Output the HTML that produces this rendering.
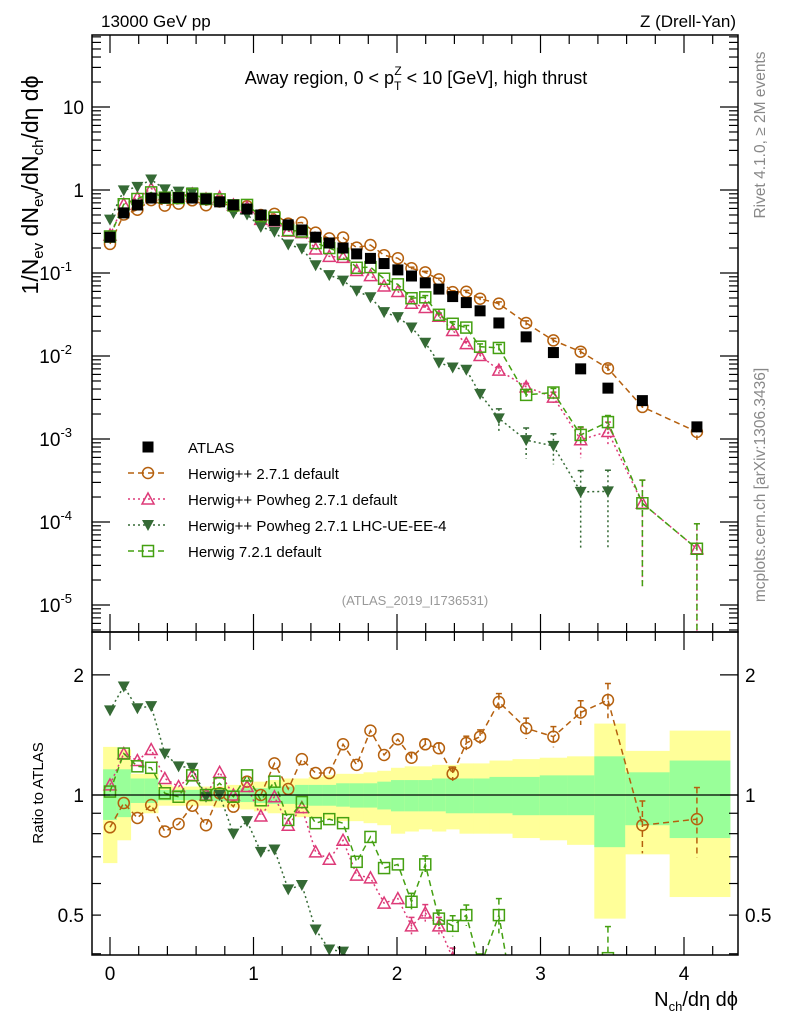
<!DOCTYPE html>
<html><head><meta charset="utf-8"><style>
html,body{margin:0;padding:0;background:#fff;width:786px;height:1024px;overflow:hidden}
svg{display:block;font-family:"Liberation Sans",sans-serif}
</style></head><body>
<svg id="chart" width="786" height="1024" viewBox="0 0 786 1024" xmlns="http://www.w3.org/2000/svg">
<defs>
<clipPath id="cm"><rect x="92" y="35" width="646" height="597"/></clipPath>
<clipPath id="cr"><rect x="92" y="632" width="646" height="323"/></clipPath>
</defs>
<g id="bands" clip-path="url(#cr)"></g>
<g id="grid"></g>
<g id="mainMarks" clip-path="url(#cm)"></g>
<g id="ratioMarks" clip-path="url(#cr)"></g>
<rect x="92" y="35" width="646" height="597" fill="none" stroke="#000" stroke-width="1.5"/>
<rect x="92" y="632" width="646" height="323" fill="none" stroke="#000" stroke-width="1.5"/>
<g id="axes"></g>
<text x="101" y="27" font-size="17">13000 GeV pp</text>
<text x="736" y="27" font-size="17" text-anchor="end">Z (Drell-Yan)</text>
<text x="416" y="84" font-size="18" text-anchor="middle">Away region, 0 &lt; p<tspan font-size="12" dy="6">T</tspan><tspan font-size="12" dx="-7" dy="-15">Z</tspan><tspan dy="9"> &lt; 10 [GeV], high thrust</tspan></text>
<text transform="translate(38,185) rotate(-90)" font-size="23" text-anchor="middle">1/N<tspan font-size="15" dy="5">ev</tspan><tspan dy="-5"> dN</tspan><tspan font-size="15" dy="5">ev</tspan><tspan dy="-5">/dN</tspan><tspan font-size="15" dy="5">ch</tspan><tspan dy="-5">/dη dϕ</tspan></text>
<text transform="translate(43,793) rotate(-90)" font-size="15" text-anchor="middle">Ratio to ATLAS</text>
<text transform="translate(765,135) rotate(-90)" font-size="15.5" fill="#888" text-anchor="middle">Rivet 4.1.0, ≥ 2M events</text>
<text transform="translate(765,485) rotate(-90)" font-size="15.5" fill="#888" text-anchor="middle">mcplots.cern.ch [arXiv:1306.3436]</text>
<text x="415" y="605" font-size="13" fill="#999" text-anchor="middle">(ATLAS_2019_I1736531)</text>
<text x="738" y="1006" font-size="20" text-anchor="end">N<tspan font-size="13" dy="5">ch</tspan><tspan dy="-5">/dη dϕ</tspan></text>
<g id="legend"></g>
</svg>
<script>
const xVals=[0,0.096,0.191,0.287,0.382,0.478,0.573,0.669,0.764,0.860,0.955,1.051,1.146,1.242,1.337,1.433,1.528,1.624,1.719,1.815,1.910,2.006,2.101,2.197,2.292,2.388,2.483,2.579,2.71,2.90,3.09,3.28,3.47,3.71,4.09];
const atlas=[0.27,0.53,0.66,0.80,0.80,0.81,0.80,0.78,0.72,0.66,0.59,0.50,0.43,0.38,0.33,0.27,0.23,0.20,0.17,0.15,0.13,0.109,0.092,0.076,0.064,0.052,0.044,0.035,0.025,0.017,0.011,0.0070,0.0041,0.0029,0.0014];
const rOrange=[0.83,0.955,0.876,0.944,0.81,0.846,0.94,0.84,1.01,0.935,1.08,1.0,1.2,1.035,1.23,1.135,1.135,1.34,1.19,1.45,1.26,1.38,1.24,1.34,1.31,1.13,1.35,1.40,1.71,1.47,1.40,1.61,1.73,0.84,0.87];
const rPink=[1.06,1.27,1.22,1.30,1.10,1.05,1.12,1.0,1.14,1.0,1.05,0.886,0.99,0.84,0.93,0.72,0.69,0.77,0.63,0.62,0.536,0.55,0.47,0.506,0.47,0.39,0.32,0.29,0.27,0.25,0.29,0.14,0.30,0.058,0.034];
const rGreen=[1.02,1.27,1.18,1.17,1.01,0.99,1.12,1.0,1.07,0.99,1.12,0.97,1.08,0.866,0.96,0.85,0.87,0.85,0.68,0.785,0.656,0.67,0.54,0.67,0.49,0.47,0.50,0.37,0.50,0.20,0.33,0.16,0.39,0.058,0.034];
const rDark=[1.63,1.87,1.65,1.67,1.27,1.18,1.17,0.99,1.0,0.80,0.86,0.72,0.73,0.58,0.595,0.46,0.41,0.405,0.36,0.34,0.26,0.27,0.24,0.19,0.13,0.14,0.155,0.10,0.071,0.057,0.075,0.033,0.057,null,null];
const eOrange=[0,0,0,0,0,0,0,0,0,0,0,0,0,0,0,0,0,0,0,0,0,0,0.03,0.03,0.03,0.04,0.04,0.04,0.05,0.06,0.06,0.07,0.1,0.15,0.2];
const ePink=[0,0,0,0,0,0,0,0,0,0,0,0,0,0,0,0,0,0,0,0,0,0,0.05,0.05,0.05,0.06,0.06,0.06,0.1,0.1,0.15,0.4,0.3,0.9,1.0];
const eGreen=[0,0,0,0,0,0,0,0,0,0,0,0,0,0,0,0,0,0,0,0,0,0,0.05,0.05,0.05,0.06,0.06,0.08,0.1,0.12,0.12,0.25,0.2,0.9,1.0];
const eDark=[0,0,0,0,0,0,0,0,0,0,0,0,0,0,0,0,0,0,0,0,0,0,0.05,0.05,0.06,0.08,0.08,0.1,0.3,0.4,0.4,0.8,0.8,0,0];
const bandYHi=[1.32,1.30,1.13,1.13,1.06,1.05,1.05,1.05,1.05,1.06,1.07,1.08,1.09,1.10,1.10,1.11,1.12,1.13,1.13,1.14,1.15,1.17,1.18,1.18,1.19,1.19,1.20,1.20,1.22,1.23,1.24,1.25,1.51,1.29,1.45];
const bandYLo=[0.675,0.77,0.90,0.90,0.94,0.94,0.94,0.94,0.93,0.93,0.92,0.91,0.90,0.89,0.88,0.88,0.87,0.86,0.86,0.85,0.84,0.80,0.81,0.82,0.81,0.82,0.80,0.80,0.80,0.78,0.77,0.75,0.49,0.71,0.555];
const bandGHi=[1.16,1.16,1.10,1.10,1.03,1.03,1.03,1.03,1.03,1.03,1.04,1.04,1.05,1.05,1.06,1.06,1.06,1.07,1.07,1.07,1.08,1.09,1.09,1.09,1.10,1.10,1.10,1.10,1.11,1.11,1.12,1.12,1.25,1.14,1.22];
const bandGLo=[0.866,0.88,0.955,0.955,0.97,0.97,0.97,0.97,0.965,0.96,0.96,0.955,0.95,0.95,0.945,0.94,0.94,0.935,0.93,0.93,0.92,0.91,0.91,0.91,0.91,0.90,0.90,0.90,0.90,0.89,0.89,0.89,0.74,0.84,0.78];
const mainTicks=[["10",1],["1",0],["10",-1],["10",-2],["10",-3],["10",-4],["10",-5]];
const ratioTicks=[2,1,0.5];
const xTicks=[0,1,2,3,4];

const NS="http://www.w3.org/2000/svg";
const X=v=>110+143.5*v;
const YM=v=>190-83*Math.log10(v);
const YR=v=>795-399*Math.log10(v);
function el(tag,attrs,parent){const e=document.createElementNS(NS,tag);for(const k in attrs)e.setAttribute(k,attrs[k]);parent.appendChild(e);return e;}
const gB=document.getElementById('bands'),gA=document.getElementById('axes'),gM=document.getElementById('mainMarks'),gR=document.getElementById('ratioMarks'),gL=document.getElementById('legend');

const edges=[xVals[0]-0.048];
for(let i=0;i<xVals.length-1;i++)edges.push((xVals[i]+xVals[i+1])/2);
edges.push(4.32);
for(let i=0;i<xVals.length;i++){
  const y1=el('rect',{x:X(edges[i]),y:YR(bandYHi[i]),width:X(edges[i+1])-X(edges[i])+0.5,height:YR(bandYLo[i])-YR(bandYHi[i]),fill:'#ffff99'},gB);
  
  
  const g1=el('rect',{x:X(edges[i]),y:YR(bandGHi[i]),width:X(edges[i+1])-X(edges[i])+0.5,height:YR(bandGLo[i])-YR(bandGHi[i]),fill:'#99ff99'},gB);
  
  
}
const unity=el('line',{x1:92,x2:738,y1:YR(1),y2:YR(1),stroke:'#000','stroke-width':1.2},gA);



for(let d=-6;d<=2;d++){for(let m=1;m<10;m++){const v=m*Math.pow(10,d);const y=YM(v);if(y<36||y>631)continue;const L=m===1?18:9;
  el('line',{x1:92,x2:92+L,y1:y,y2:y,stroke:'#000','stroke-width':1.2},gA);el('line',{x1:738,x2:738-L,y1:y,y2:y,stroke:'#000','stroke-width':1.2},gA);}}
mainTicks.forEach(t=>{const y=YM(Math.pow(10,t[1]));const tx=el('text',{x:t[1]<0?72:84,y:y+7,'font-size':19,'text-anchor':'end'},gA);tx.textContent=t[0];
  
  
  if(t[1]<0){const s=el('tspan',{'font-size':13,dy:-9},tx);s.textContent=String(t[1]);}});
[0.4,0.5,0.6,0.7,0.8,0.9,1,2].forEach(v=>{const y=YR(v);const L=(v===1||v===2)?18:9;el('line',{x1:92,x2:92+L,y1:y,y2:y,stroke:'#000','stroke-width':1.2},gA);el('line',{x1:738,x2:738-L,y1:y,y2:y,stroke:'#000','stroke-width':1.2},gA);});
ratioTicks.forEach(v=>{const y=YR(v)+7;
  const a=el('text',{x:84,y:y,'font-size':19,'text-anchor':'end'},gA);a.textContent=String(v);
  
  
  const b=el('text',{x:745,y:y,'font-size':19},gA);b.textContent=String(v);
  
  });
for(let k=-1;k<=22;k++){const v=k*0.2;const x=X(v);if(x<93||x>737)continue;const major=Math.abs(v-Math.round(v))<1e-6;const L=major?18:9;
  [[35,1],[632,-1],[632,1],[955,-1]].forEach(p=>el('line',{x1:x,x2:x,y1:p[0],y2:p[0]+p[1]*L,stroke:'#000','stroke-width':1.2},gA));}
xTicks.forEach(v=>{const t=el('text',{x:X(v),y:980,'font-size':19,'text-anchor':'middle'},gA);t.textContent=String(v);
  
  });

function marker(g,type,color,x,y){
  if(type==='sq')return el('rect',{x:x-5.5,y:y-5.5,width:11,height:11,fill:'#000'},g);
  if(type==='circ')return el('circle',{cx:x,cy:y,r:5.5,fill:'none',stroke:color,'stroke-width':1.5},g);
  if(type==='tri')return el('polygon',{points:`${x},${y-6} ${x-6},${y+5} ${x+6},${y+5}`,fill:'none',stroke:color,'stroke-width':1.5},g);
  if(type==='dtri')return el('polygon',{points:`${x},${y+6} ${x-6},${y-5} ${x+6},${y-5}`,fill:color},g);
  if(type==='osq')return el('rect',{x:x-5.5,y:y-5.5,width:11,height:11,fill:'none',stroke:color,'stroke-width':1.5},g);
}
const series=[
  {name:'herwig-271',r:rOrange,e:eOrange,type:'circ',color:'#b5600e',dash:'6,4'},
  {name:'powheg-271',r:rPink,e:ePink,type:'tri',color:'#dd3a78',dash:'2,3'},
  {name:'powheg-lhc-ue',r:rDark,e:eDark,type:'dtri',color:'#356a35',dash:'2,3'},
  {name:'herwig-721',r:rGreen,e:eGreen,type:'osq',color:'#44a011',dash:'6,4'}
];
series.forEach(s=>{
  [[gM,(i)=>atlas[i]*s.r[i],YM,632],[gR,(i)=>s.r[i],YR,955]].forEach(([g,val,Y,bot])=>{
    let d='';
    for(let i=0;i<xVals.length;i++){if(s.r[i]==null)continue;d+=(d?'L':'M')+X(xVals[i])+','+Y(val(i));}
    const p=el('path',{d:d,fill:'none',stroke:s.color,'stroke-width':1.5,'stroke-dasharray':s.dash},g);
    
    
    for(let i=0;i<xVals.length;i++){if(s.r[i]==null)continue;const v=val(i),x=X(xVals[i]);
      if(s.e[i]>0){const hi=Y(v*(1+s.e[i]));const lo=s.e[i]>=1?bot:Math.min(bot,Y(v*(1-s.e[i])));
        el('line',{x1:x,x2:x,y1:hi,y2:lo,stroke:s.color,'stroke-width':1.5,'stroke-dasharray':s.dash},g);
        el('line',{x1:x-3,x2:x+3,y1:hi,y2:hi,stroke:s.color,'stroke-width':1.5},g);}
      const m=marker(g,s.type,s.color,x,Y(v));
      
      }
  });
});
for(let i=0;i<xVals.length;i++){const m=marker(gM,'sq','#000',X(xVals[i]),YM(atlas[i]));
  
  }

const legItems=[['ATLAS','sq','#000',null],['Herwig++ 2.7.1 default','circ','#b5600e','6,4'],['Herwig++ Powheg 2.7.1 default','tri','#dd3a78','2,3'],['Herwig++ Powheg 2.7.1 LHC-UE-EE-4','dtri','#356a35','2,3'],['Herwig 7.2.1 default','osq','#44a011','6,4']];
legItems.forEach((it,k)=>{const y=447+26*k;
  if(it[3]){el('line',{x1:128,x2:168,y1:y,y2:y,stroke:it[2],'stroke-width':1.5,'stroke-dasharray':it[3]},gL);}
  const m=marker(gL,it[1],it[2],148,y);
  
  
  const t=el('text',{x:188,y:y+6,'font-size':15},gL);t.textContent=it[0];
  
  });
</script>
</body></html>
